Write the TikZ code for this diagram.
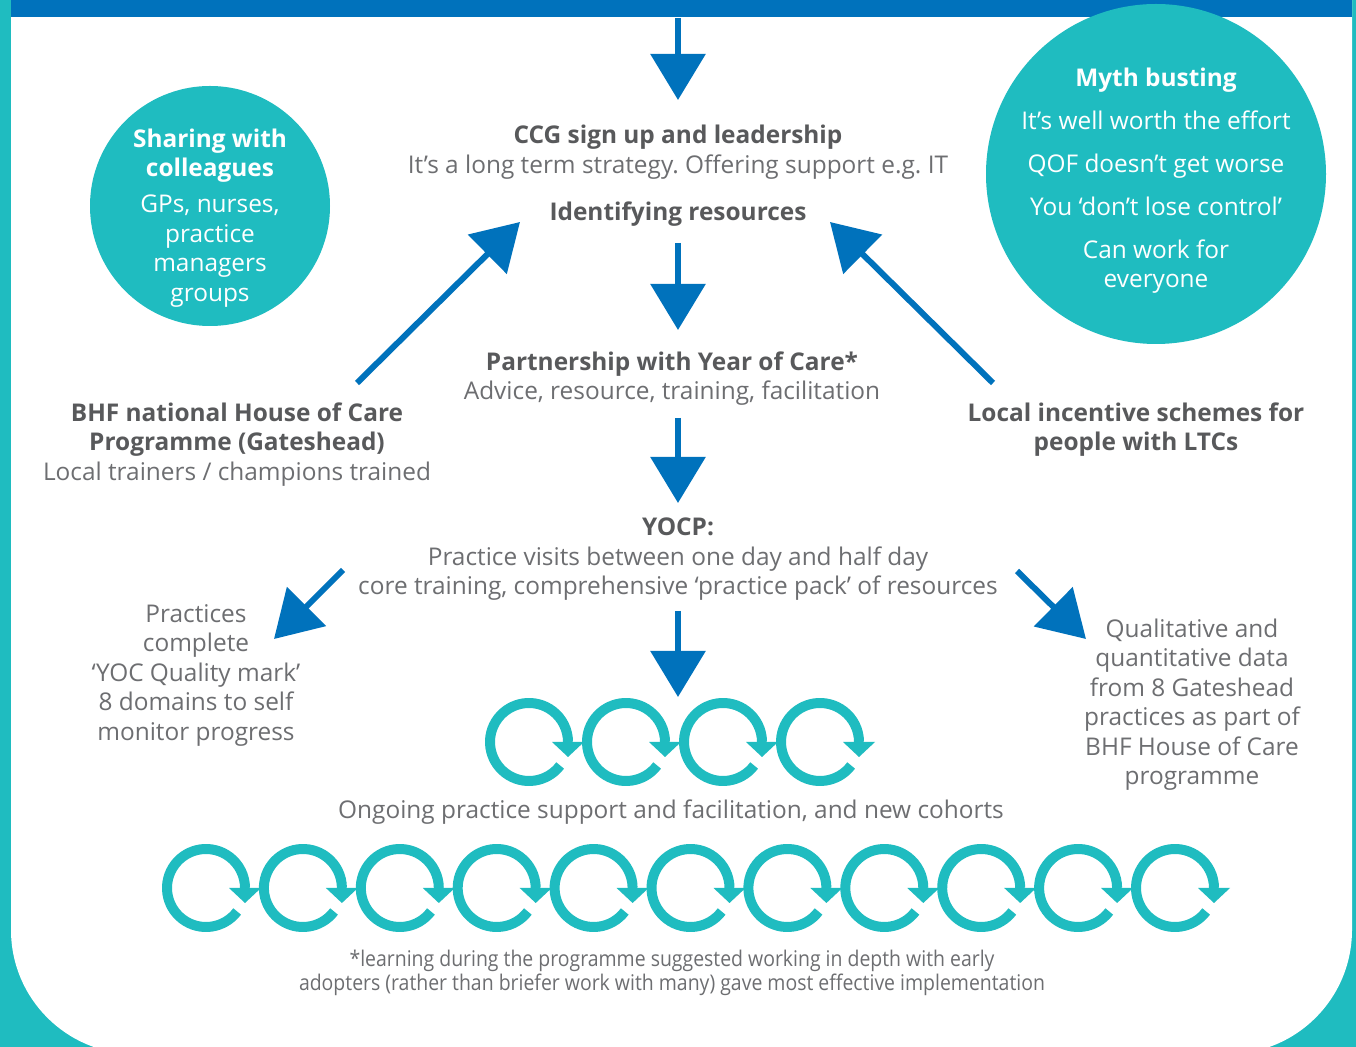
\documentclass[tikz,border=0pt]{standalone}
\usepackage{fontspec}
\setmainfont{Open Sans}
\newfontfamily\condfont{Open Sans}[FakeStretch=0.9]
\usetikzlibrary{arrows.meta}
\frenchspacing

\definecolor{tealc}{RGB}{31,188,192}
\definecolor{arrblue}{RGB}{0,114,188}
\definecolor{bodygrey}{RGB}{109,110,113}
\definecolor{hdgrey}{RGB}{88,89,91}

\newcommand{\hd}[1]{{\bfseries\color{hdgrey}#1}}

\tikzset{
  cycarrow/.pic={
    \draw[line width=5pt, tealc] (37:39) arc[start angle=37, end angle=360, radius=39];
    \fill[tealc] (23,0) -- (55,0) -- (39,15) -- cycle;
  }
}

\begin{document}
\begin{tikzpicture}[x=0.5pt, y=-0.5pt,
  body/.style={font=\fontsize{12.2pt}{14.75pt}\selectfont, text=bodygrey, align=center, inner sep=0pt},
  blarr/.style={draw=arrblue, line width=3pt, -{Triangle[length=23pt, width=27pt]}}]
    \useasboundingbox (0,0) rectangle (1356,1047);
    \clip (0,0) rectangle (1356,1047);

    % Frame and top bar
    \fill[tealc] (0,0) rectangle (1356,1047);
    \fill[white, rounded corners=62pt] (11,-200) rectangle (1352,1054);
    \node[fill=arrblue, inner sep=0pt, minimum width=670.5pt, minimum height=8.5pt, anchor=north west] (topbar) at (11,0) {};

    % Side circles
    \fill[tealc] (210,206) circle[radius=120];
    \fill[tealc] (1156,174) circle[radius=170];
    \node[body, text=white] (share) at (210,218) {\textbf{Sharing with}\\\textbf{colleagues}\\[3.25pt]GPs, nurses,\\practice\\managers\\groups};
    \node[body, text=white] (myth) at (1156,180.5) {\textbf{Myth busting}\\[6.75pt]It’s well worth the effort\\[6.75pt]QOF doesn’t get worse\\[6.75pt]You ‘don’t lose control’\\[6.75pt]Can work for\\everyone};

    % Main column
    \node[body] (ccg) at (678,152) {\hd{CCG sign up and leadership}\\It’s a long term strategy. Offering support e.g. IT};
    \node[body] (ident) at (678,214) {\hd{Identifying resources}};
    \node[body] (partner) at (672,378.5) {\hd{Partnership with Year of Care*}\\Advice, resource, training, facilitation};
    \node[body] (yocp) at (678,559.5) {\hd{YOCP:}\\Practice visits between one day and half day\\core training, comprehensive ‘practice pack’ of resources};
    \node[body] (ongoing) at (671,812) {Ongoing practice support and facilitation, and new cohorts};

    % Side texts
    \node[body] (bhf) at (237,444.5) {\hd{BHF national House of Care}\\\hd{Programme (Gateshead)}\\Local trainers / champions trained};
    \node[body] (lis) at (1136,429.5) {\hd{Local incentive schemes for}\\\hd{people with LTCs}};
    \node[body] (pract) at (196,675) {Practices\\complete\\‘YOC Quality mark’\\8 domains to self\\monitor progress};
    \node[body] (qual) at (1192,704.5) {Qualitative and\\quantitative data\\from 8 Gateshead\\practices as part of\\BHF House of Care\\programme};

    % Footnote
    \node[font=\condfont\fontsize{10.8pt}{12pt}\selectfont, text=bodygrey, align=center, inner sep=0pt] (foot) at (672,973) {*learning during the programme suggested working in depth with early\\adopters (rather than briefer work with many) gave most effective implementation};

    % Cycles
    \foreach \i in {0,...,3}
        \pic at (529+97*\i,742) {cycarrow};
    \foreach \i in {0,...,10}
        \pic at (206+96.9*\i,888) {cycarrow};

    % Arrows
    \draw[blarr] (topbar.south -| ccg.center) -- ([shift={(0,-52)}]ccg.center);
    \draw[blarr] ([shift={(0,29)}]ident.center) -- ([shift={(6,-48.5)}]partner.center);
    \draw[blarr] ([shift={(6,39.5)}]partner.center) -- ([shift={(0,-56.5)}]yocp.center);
    \draw[blarr] ([shift={(0,51.5)}]yocp.center) -- ([shift={(7,-115)}]ongoing.center);
    \draw[blarr] ([shift={(120,-61.5)}]bhf.center) -- ([shift={(-158,8)}]ident.center);
    \draw[blarr] ([shift={(-143,-46.5)}]lis.center) -- ([shift={(152,8)}]ident.center);
    \draw[blarr] ([shift={(-335,10.5)}]yocp.center) -- ([shift={(78,-36)}]pract.center);
    \draw[blarr] ([shift={(339,11.5)}]yocp.center) -- ([shift={(-106,-65.5)}]qual.center);
\end{tikzpicture}
\end{document}
